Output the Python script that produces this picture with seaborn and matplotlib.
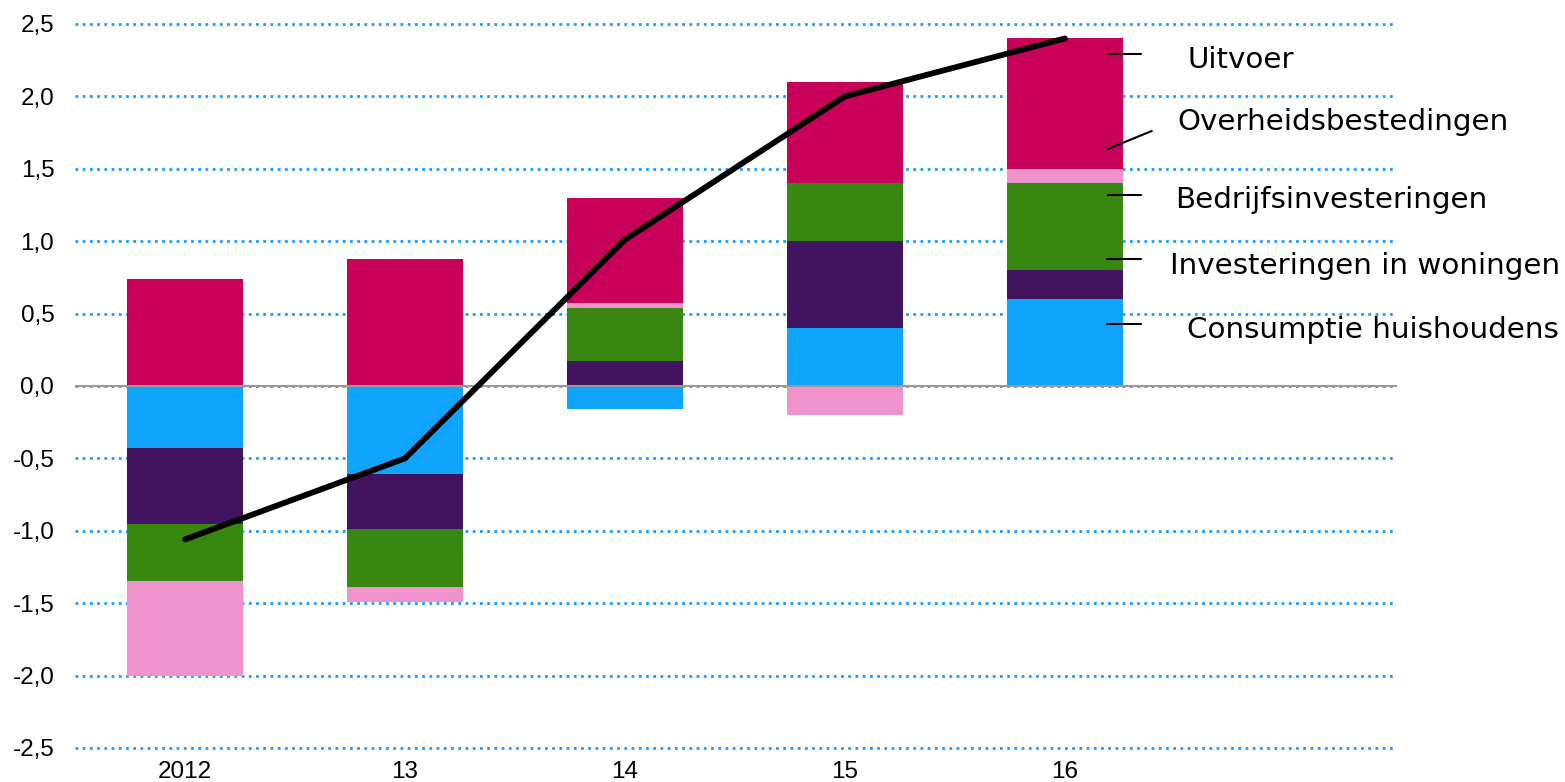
import numpy as np
import seaborn as sns
import matplotlib
matplotlib.use("Agg")
import matplotlib.pyplot as plt
from matplotlib.ticker import FuncFormatter

# --- data ---
jaren = ["2012", "13", "14", "15", "16"]
consumptie = [-0.43, -0.61, -0.16, 0.40, 0.60]
woningen = [-0.52, -0.38, 0.17, 0.60, 0.20]
bedrijfs = [-0.40, -0.40, 0.37, 0.40, 0.60]
overheid = [-0.65, -0.10, 0.03, -0.20, 0.10]
uitvoer = [0.74, 0.88, 0.73, 0.70, 0.90]
totaal = [-1.06, -0.50, 1.01, 2.00, 2.40]

reeksen = ["Consumptie huishoudens", "Investeringen in woningen",
           "Bedrijfsinvesteringen", "Overheidsbestedingen", "Uitvoer"]
kleuren = ["#0FA5FF", "#42145F", "#388710", "#F093CD", "#C8005A"]
waarden = [consumptie, woningen, bedrijfs, overheid, uitvoer]

# --- style ---
sns.set_style("white")
plt.rcParams["font.family"] = ["Liberation Sans", "DejaVu Sans"]

fig = plt.figure(figsize=(15.65, 7.82), dpi=100)
ax = fig.add_axes([0.048, 0.0343, 0.8447, 0.9443])

# gestapelde staven: positief omhoog, negatief omlaag
pos_basis = np.zeros(len(jaren))
neg_basis = np.zeros(len(jaren))
for naam, vals, kleur in zip(reeksen, waarden, kleuren):
    vals = np.array(vals)
    basis = np.where(vals >= 0, pos_basis, neg_basis)
    sns.barplot(x=jaren, y=vals, bottom=basis, color=kleur, saturation=1,
                width=0.53, errorbar=None, linewidth=0, ax=ax, zorder=2)
    pos_basis += np.clip(vals, 0, None)
    neg_basis += np.clip(vals, None, 0)

ax.axhline(0, color="#999999", lw=1.5, zorder=3)

# totale groei
sns.lineplot(x=np.arange(len(jaren)), y=totaal, color="black", lw=4.2,
             ax=ax, zorder=4, solid_capstyle="round", solid_joinstyle="round")

# --- assen ---
ax.set_xlim(-0.5, 5.51)
ax.set_ylim(-2.55, 2.55)
ax.set_yticks(np.arange(-2.5, 2.51, 0.5))
ax.yaxis.set_major_formatter(FuncFormatter(lambda v, p: f"{v:.1f}".replace(".", ",")))
ax.set_xlabel("")
ax.set_ylabel("")
ax.tick_params(axis="y", length=0, pad=15, labelsize=17.5, labelcolor="black")
ax.tick_params(axis="x", length=0, pad=4, labelsize=17.5, labelcolor="black")
ax.yaxis.grid(True, linestyle=(0, (1, 1.6)), color="#1E9BFF", lw=2)
ax.xaxis.grid(False)
ax.set_axisbelow(True)
for s in ax.spines.values():
    s.set_visible(False)

# --- labels met verbindingslijntjes ---
label_pos = [(4.555, 0.331), (4.477, 0.773), (4.50, 1.229), (4.509, 1.768), (4.555, 2.196)]
lijntjes = [((4.19, 4.345), (0.428, 0.428)),
            ((4.19, 4.345), (0.877, 0.877)),
            ((4.195, 4.345), (1.319, 1.319)),
            ((4.195, 4.395), (1.637, 1.761)),
            ((4.195, 4.345), (2.293, 2.293))]
for naam, (tx, ty), (lx, ly) in zip(reeksen, label_pos, lijntjes):
    ax.text(tx, ty, naam, fontsize=21.2, va="baseline", ha="left",
            family=["DejaVu Sans"], color="black")
    ax.plot(lx, ly, color="black", lw=1.5, zorder=5)

fig.savefig("out.png", dpi=100)
